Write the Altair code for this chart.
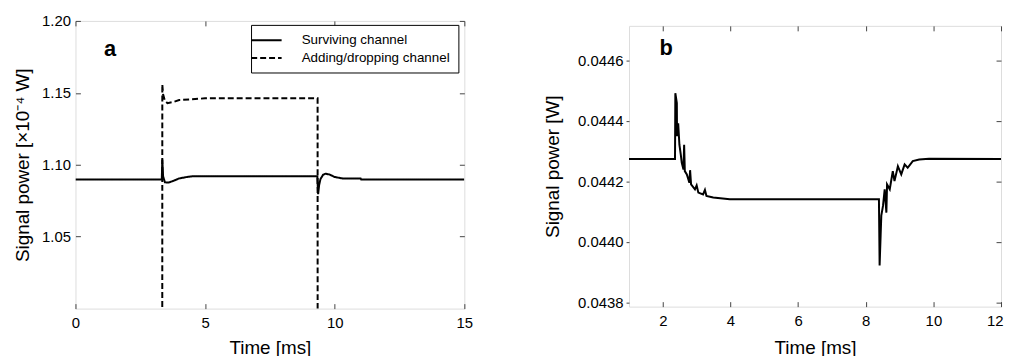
import altair as alt
import pandas as pd

FONT = "Liberation Sans"
AX = "#444444"

# ---------------- Panel a (x 1e-4 W) ----------------
surv_t = [0.0, 3.33, 3.35, 3.38, 3.45, 3.6, 3.8, 4.0, 4.3, 4.5, 9.33, 9.36, 9.40, 9.45, 9.55, 9.65, 9.8, 10.0, 10.3, 11.0, 11.02, 15.0]
surv_v = [1.0898, 1.0898, 1.1037, 1.0920, 1.0878, 1.0876, 1.0890, 1.0905, 1.0915, 1.0920, 1.0920, 1.0795, 1.0860, 1.0900, 1.0930, 1.0938, 1.0932, 1.0915, 1.0905, 1.0905, 1.0898, 1.0898]

add_t = [0.0, 3.34, 3.35, 3.38, 3.45, 3.55, 3.8, 4.0, 4.5, 5.0, 9.34, 9.35, 15.0]
add_v = [0.0, 0.0, 1.1559, 1.1490, 1.1445, 1.1428, 1.1438, 1.1450, 1.1455, 1.1462, 1.1462, 0.0, 0.0]

series_names = ["Surviving channel", "Adding/dropping channel"]

# ---------------- Panel b (W) ----------------
b_t = [1.0, 2.36, 2.37, 2.414, 2.42, 2.454, 2.49, 2.53, 2.56, 2.61, 2.63, 2.65, 2.71, 2.785, 2.806, 2.835,
       2.95, 3.0, 3.05, 3.19, 3.245, 3.29, 3.49, 3.98, 4.95, 8.39, 8.41, 8.44, 8.46, 8.51, 8.56, 8.61,
       8.63, 8.71, 8.80, 8.85, 8.95, 9.05, 9.15, 9.24, 9.39, 9.58, 9.87, 12.0]
b_v = [0.044274, 0.044274, 0.044491, 0.044458, 0.044349, 0.044392, 0.044321, 0.044289, 0.044261, 0.044239, 0.044321, 0.044234,
       0.044223, 0.044196, 0.044237, 0.044190, 0.044174, 0.044187, 0.044163, 0.044157, 0.044172, 0.044152, 0.044147, 0.044141,
       0.044141, 0.044141, 0.043923, 0.044021, 0.044087, 0.044119, 0.044174, 0.044097, 0.044190, 0.044174, 0.044234, 0.044201,
       0.044250, 0.044223, 0.044256, 0.044245, 0.044267, 0.044272, 0.044275, 0.044274]

a_ticks_x = [0, 5, 10, 15]
a_ticks_y = [1.05, 1.10, 1.15, 1.20]
b_ticks_x = [2, 4, 6, 8, 10, 12]
b_ticks_y = [0.0438, 0.0440, 0.0442, 0.0444, 0.0446]

label_a = {"t": [1.1], "v": [1.1755], "s": ["a"]}
label_b = {"t": [1.9], "v": [0.044616], "s": ["b"]}

df_a = pd.concat([
    pd.DataFrame({"t": surv_t, "v": surv_v, "series": series_names[0], "i": range(len(surv_t))}),
    pd.DataFrame({"t": add_t, "v": add_v, "series": series_names[1], "i": range(len(add_t))}),
])
df_b = pd.DataFrame({"t": b_t, "v": b_v, "i": range(len(b_t))})


def ax(**kw):
    base = dict(domain=False, grid=False, tickColor=AX, tickWidth=1, labelFont=FONT, labelFontSize=15,
                labelColor="black", titleFont=FONT, titleFontSize=19, titleFontWeight="normal", titleColor="black")
    base.update(kw)
    return alt.Axis(**base)


def inner(orient, values, **kw):
    return ax(orient=orient, values=values, offset=-5, tickSize=5, **kw)


def hidden(orient, values):
    return ax(orient=orient, values=values, offset=-5, tickSize=5, labels=False, title=None)


# ---- panel a ----
sxa = alt.Scale(domain=[0, 15], nice=False, zero=False)
sya = alt.Scale(domain=[1.0, 1.2], nice=False, zero=False)

lines_a = alt.Chart(df_a).mark_line(color="black", strokeWidth=2, clip=True).encode(
    x=alt.X("t:Q", scale=sxa, axis=inner("bottom", a_ticks_x, title="Time [ms]", labelPadding=7, titlePadding=8,
                                          labelFlush=False)),
    y=alt.Y("v:Q", scale=sya, axis=inner("left", a_ticks_y, format=".2f", title="Signal power [×10⁻⁴ W]",
                                           labelPadding=5, titlePadding=9)),
    strokeDash=alt.StrokeDash("series:N", scale=alt.Scale(domain=series_names, range=[[1, 0], [6, 3]]),
                              legend=alt.Legend(title=None, orient="none", legendX=177, legendY=4,
                                                direction="vertical", strokeColor="black", fillColor="white",
                                                padding=8, symbolType="M-2.5,0H2.5", symbolSize=150,
                                                symbolStrokeWidth=2, symbolStrokeColor="black",
                                                labelFont=FONT, labelFontSize=13.5, labelColor="black",
                                                labelOffset=28, rowPadding=4, cornerRadius=0, labelLimit=300,
                                                labelExpr="datum.label + '\u00a0\u00a0'")),
    order="i:Q",
)
frame_a = alt.Chart(df_a).mark_line(opacity=0).encode(
    x=alt.X("t:Q", scale=sxa, axis=hidden("top", a_ticks_x)),
    y=alt.Y("v:Q", scale=sya, axis=hidden("right", a_ticks_y)),
)
text_a = alt.Chart(pd.DataFrame(label_a)).mark_text(align="left", baseline="alphabetic", fontSize=22,
                                                     fontWeight="bold", font=FONT, color="black").encode(
    x=alt.X("t:Q", scale=sxa, axis=None), y=alt.Y("v:Q", scale=sya, axis=None), text="s:N")

panel_a = alt.layer(lines_a, frame_a, text_a).resolve_axis(x="independent", y="independent").properties(
    width=392, height=290)

# ---- panel b ----
sxb = alt.Scale(domain=[1, 12], nice=False, zero=False)
syb = alt.Scale(domain=[0.043787, 0.044713], nice=False, zero=False)

line_b = alt.Chart(df_b).mark_line(color="black", strokeWidth=2, clip=True).encode(
    x=alt.X("t:Q", scale=sxb, axis=inner("bottom", b_ticks_x, title="Time [ms]", labelPadding=7, titlePadding=10,
                                          labelFlush=True, labelFlushOffset=2)),
    y=alt.Y("v:Q", scale=syb, axis=ax(orient="left", values=b_ticks_y, format=".4f", tickSize=3,
                                       title="Signal power [W]", labelPadding=3, titlePadding=15)),
    order="i:Q",
)
frame_b = alt.Chart(df_b).mark_line(opacity=0).encode(
    x=alt.X("t:Q", scale=sxb, axis=hidden("top", b_ticks_x)),
    y=alt.Y("v:Q", scale=syb, axis=hidden("right", b_ticks_y)),
)
text_b = alt.Chart(pd.DataFrame(label_b)).mark_text(align="left", baseline="alphabetic", fontSize=22,
                                                     fontWeight="bold", font=FONT, color="black").encode(
    x=alt.X("t:Q", scale=sxb, axis=None), y=alt.Y("v:Q", scale=syb, axis=None), text="s:N")

panel_b = alt.layer(line_b, frame_b, text_b).resolve_axis(x="independent", y="independent").properties(
    width=375, height=283)

# invisible spacer that lowers panel b a few pixels relative to panel a
spacer = alt.Chart(pd.DataFrame({"z": [0]})).mark_rule(strokeOpacity=0, strokeWidth=0.1).encode(
    x=alt.value(0), x2=alt.value(375), y=alt.value(0)
).properties(width=375, height=1, view=alt.ViewBackground(stroke="transparent"))

right_col = alt.vconcat(spacer, panel_b, spacing=4, bounds="flush")

chart = alt.hconcat(panel_a, right_col, spacing=166, bounds="flush").properties(
    padding={"left": 5, "right": 0, "top": -2, "bottom": 0}
).configure_view(stroke="#555555", strokeWidth=1.2).configure(font=FONT)

chart.save("out.html", embed_options={"renderer": "svg", "actions": False})
